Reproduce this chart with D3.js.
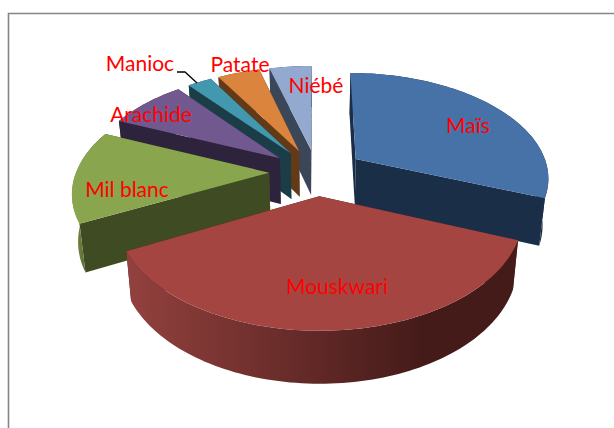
<!DOCTYPE html>
<html>
<head>
<meta charset="utf-8">
<script src="https://cdn.jsdelivr.net/npm/d3@7"></script>
<style>
  html, body { margin: 0; padding: 0; background: #fff; }
  svg { display: block; }
  text { font-family: Lato, sans-serif; font-size: 21px; fill: #f00; text-anchor: middle; }
</style>
</head>
<body>
<svg id="chart" width="614" height="428"></svg>
<script>
const categories = ['Maïs', 'Mouskwari', 'Mil blanc', 'Arachide', 'Manioc', 'Patate', 'Niébé'];
const shares = [31, 36.5, 14, 7.7, 2.4, 4.2, 4.2];

const topColors = ['#4672a7', '#a54542', '#89a54e', '#71588f', '#4198af', '#db843d', '#93a9cf'];
const sideColors = ['#1b2e47', '#451b19', '#3f4b22', '#2d233c', '#1a3d47', '#633a18', '#3b4658'];
const rimLight = ['#1b2e47', '#93413e', '#7c9346', '#2d233c', '#1a3d47', '#633a18', '#3b4658'];

// label centres, placed by hand like the original
const labelPos = [[468, 133], [337, 294], [127, 197], [151, 122], [140, 71], [240, 72], [316, 93]];

const cx = 317, cy = 172;
const rx = 193, ry = 103.9;   // pie radius on screen before perspective
const persp = 0.162;          // back of the pie shrinks
const explode = 0.225;

const svg = d3.select('#chart');

// chart frame
svg.append('path')
  .attr('d', 'M8.5,428V13.5H614')
  .attr('fill', 'none')
  .attr('stroke', '#868686')
  .attr('stroke-width', 1.6);

// world coords -> screen, z=1 is the underside of the pie
function project(X, Y, z) {
  const w = 1 + persp * Y;
  const px = rx * X / w;
  const py = -ry * Y / w;
  if (!z) return [cx + px, cy + py];
  return [cx + px * 0.975, cy + py + 46.5 / (1 + 0.1 * Y)];
}

const pie = d3.pie().sort(null).value(d => d);
const arcs = pie(shares).map((a, i) => {
  const mid = (a.startAngle + a.endAngle) / 2;
  return {
    i, start: a.startAngle, end: a.endAngle,
    ox: explode * 1.1 * Math.sin(mid),
    oy: explode * Math.cos(mid)
  };
});

function rimPoint(s, a) {
  return [s.ox + Math.sin(a), s.oy + Math.cos(a)];
}

function rimAngles(s) {
  const n = Math.max(4, Math.ceil((s.end - s.start) * 40));
  return d3.range(n + 1).map(k => s.start + (s.end - s.start) * k / n);
}

const line = d3.line();

// gradient for the curved outer wall, dark towards the right
const defs = svg.append('defs');
arcs.forEach(s => {
  const pts = rimAngles(s).map(a => { const p = rimPoint(s, a); return project(p[0], p[1], 0); });
  const grad = defs.append('linearGradient')
    .attr('id', 'rim' + s.i)
    .attr('gradientUnits', 'userSpaceOnUse')
    .attr('x1', d3.min(pts, p => p[0])).attr('x2', d3.max(pts, p => p[0]))
    .attr('y1', 0).attr('y2', 0);
  grad.append('stop').attr('offset', 0).attr('stop-color', rimLight[s.i]);
  grad.append('stop').attr('offset', 0.75).attr('stop-color', sideColors[s.i]);
});

// back to front
const drawOrder = [6, 5, 4, 3, 2, 0, 1];
drawOrder.forEach(i => {
  const s = arcs[i];
  const g = svg.append('g').attr('class', 'slice');
  const apex = [s.ox, s.oy];

  [s.start, s.end].forEach(a => {
    const p = rimPoint(s, a);
    g.append('path')
      .attr('d', line([
        project(apex[0], apex[1], 0), project(p[0], p[1], 0),
        project(p[0], p[1], 1), project(apex[0], apex[1], 1)
      ]) + 'Z')
      .attr('fill', sideColors[i]);
  });

  const angles = rimAngles(s);
  const upper = angles.map(a => { const p = rimPoint(s, a); return project(p[0], p[1], 0); });
  const lower = angles.map(a => { const p = rimPoint(s, a); return project(p[0], p[1], 1); }).reverse();
  g.append('path')
    .attr('d', line(upper.concat(lower)) + 'Z')
    .attr('fill', `url(#rim${i})`);

  g.append('path')
    .attr('d', line([project(apex[0], apex[1], 0)].concat(upper)) + 'Z')
    .attr('fill', topColors[i]);
});

// Manioc leader
svg.append('path')
  .attr('d', 'M177,72H185L197,83')
  .attr('fill', 'none')
  .attr('stroke', '#000')
  .attr('stroke-width', 1.3);

svg.selectAll('text.label')
  .data(categories)
  .join('text')
  .attr('class', 'label')
  .attr('x', (d, i) => labelPos[i][0])
  .attr('y', (d, i) => labelPos[i][1])
  .text(d => d);
</script>
</body>
</html>
